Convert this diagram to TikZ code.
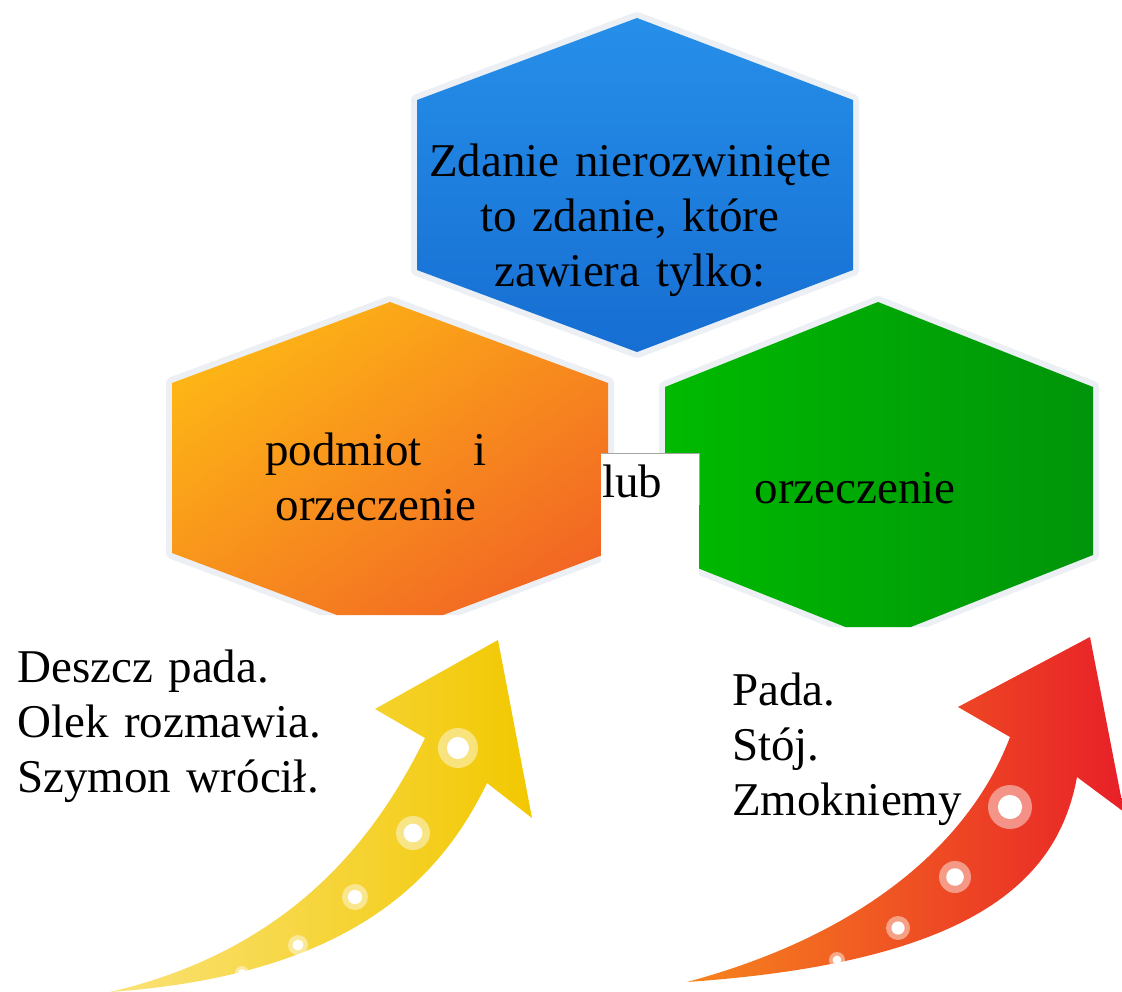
\documentclass[tikz,border=0pt]{standalone}
\usepackage{fontspec}
\setmainfont{Liberation Serif}
\begin{document}
\definecolor{blueT}{RGB}{38,143,233}
\definecolor{blueB}{RGB}{22,110,210}
\definecolor{orT}{RGB}{253,180,22}
\definecolor{orB}{RGB}{242,102,36}
\definecolor{grL}{RGB}{0,186,0}
\definecolor{grR}{RGB}{0,148,10}
\definecolor{ylL}{RGB}{250,226,120}
\definecolor{ylR}{RGB}{242,200,0}
\definecolor{rdL}{RGB}{246,132,30}
\definecolor{rdR}{RGB}{232,32,40}
\definecolor{haloc}{RGB}{236,239,243}
\tikzset{
  halo/.style={draw=haloc, line width=12pt, line join=round},
  txt/.style={inner sep=0pt, font=\fontsize{47}{55}\selectfont, text=black},
  dotring/.style={fill=white, fill opacity=0.45},
  dotcore/.style={fill=white},
}
\begin{tikzpicture}[x=1pt,y=-1pt]
\path[use as bounding box, fill=white] (0,0) rectangle (1122,992);
% hexagons, cut at the bottom
\begin{scope}
\clip (0,0) -- (1122,0) -- (1122,627) -- (690,627) -- (690,615) -- (0,615) -- cycle;
\draw[halo] (637,18) -- (853,100) -- (853,270) -- (637,352) -- (417,270) -- (417,100) -- cycle;
\draw[halo] (390,302) -- (608,383) -- (608,553) -- (390,635) -- (172,553) -- (172,383) -- cycle;
\draw[halo] (878,302) -- (1093,387) -- (1093,555) -- (878,640) -- (665,555) -- (665,387) -- cycle;
\shade[top color=blueT, bottom color=blueB] (637,18) -- (853,100) -- (853,270) -- (637,352) -- (417,270) -- (417,100) -- cycle;
\shade[top color=orT, bottom color=orB, shading angle=35] (390,302) -- (608,383) -- (608,553) -- (390,635) -- (172,553) -- (172,383) -- cycle;
\shade[left color=grL, right color=grR] (878,302) -- (1093,387) -- (1093,555) -- (878,640) -- (665,555) -- (665,387) -- cycle;
\end{scope}
% lub box
\fill[white] (601,453) rectangle (699,615);
\draw[gray!70, line width=0.8pt] (601,453) -- (699,453) -- (699,505);
% yellow arrow
\shade[left color=ylL, right color=ylR]
  (498,640) -- (375,709) -- (425,738)
  .. controls (375,840) and (290,950) .. (110,992)
  .. controls (350,975) and (440,880) .. (487,783)
  -- (532,818) -- cycle;
\foreach \x/\y/\r in {458/748/20, 413/833/17, 355/897/13, 298/945/10, 242/973/7}{
  \fill[dotring] (\x,\y) circle[radius=\r];
  \fill[dotcore] (\x,\y) circle[radius=0.55*\r];
}
% red arrow
\shade[left color=rdL, right color=rdR]
  (1090,637) -- (958,707) -- (1010,737)
  .. controls (975,830) and (880,930) .. (687,982)
  .. controls (975,962) and (1058,880) .. (1077,777)
  -- (1124,812) -- cycle;
\foreach \x/\y/\r in {1010/807/22, 955/877/16, 898/928/12, 837/960/8}{
  \fill[dotring] (\x,\y) circle[radius=\r];
  \fill[dotcore] (\x,\y) circle[radius=0.55*\r];
}
% texts
\node[txt, text width=440pt, align=center, anchor=base] (title) at (630,177)
  {Zdanie nierozwinięte\\to zdanie, które\\zawiera tylko:};
\node[txt, text width=222pt, align=center, anchor=base] (both) at (376,465)
  {\makebox[222pt]{podmiot\hfill i}\\orzeczenie};
\node[txt, anchor=base] (pred) at (855,503) {orzeczenie};
\node[txt, anchor=base west] (lub) at (602,497) {lub};
\node[txt, text width=330pt, align=left, anchor=base west] (ex1) at (17,682)
  {Deszcz pada.\\Olek rozmawia.\\Szymon wrócił.};
\node[txt, text width=260pt, align=left, anchor=base west] (ex2) at (732,705)
  {Pada.\\Stój.\\Zmokniemy};
\end{tikzpicture}
\end{document}
